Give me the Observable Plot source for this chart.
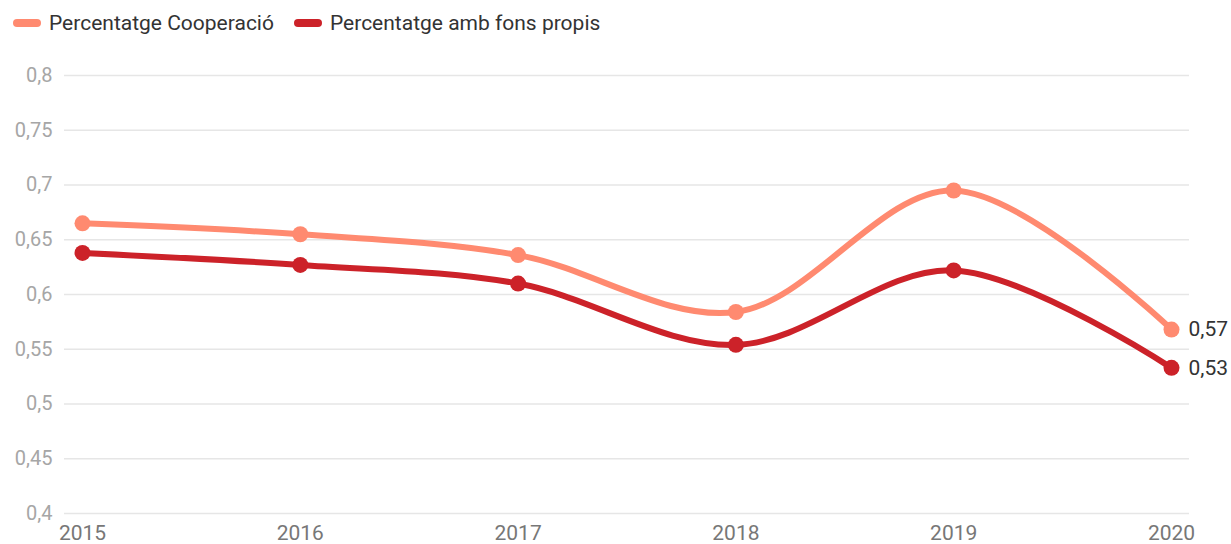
<!DOCTYPE html>
<html>
<head>
<meta charset="utf-8">
<script src="https://cdn.jsdelivr.net/npm/d3@7"></script>
<script src="https://cdn.jsdelivr.net/npm/@observablehq/plot@0.6"></script>
<style>
  body { margin: 0; background: #fff; font-family: Roboto, "Noto Sans", sans-serif; }
  #legend { height: 45px; display: flex; align-items: center; padding-left: 13px; font-size: 21px; color: #333; }
  .item { display: flex; align-items: center; margin-right: 20px; }
  .sw { width: 28px; height: 8px; border-radius: 4px; margin-right: 8px; }
  svg { display: block; }
</style>
</head>
<body>
<div id="legend"></div>
<div id="chart"></div>
<script>
const years = [2015, 2016, 2017, 2018, 2019, 2020];
const cooperacio = [0.665, 0.655, 0.636, 0.584, 0.695, 0.568];
const fonsPropis = [0.638, 0.627, 0.610, 0.554, 0.622, 0.533];
const seriesNames = ["Percentatge Cooperació", "Percentatge amb fons propis"];
const seriesColors = ["#ff8a70", "#cc2229"];
const yTicks = [0.4, 0.45, 0.5, 0.55, 0.6, 0.65, 0.7, 0.75, 0.8];

const data = [];
years.forEach((y, i) => {
  data.push({year: y, value: cooperacio[i], series: seriesNames[0]});
  data.push({year: y, value: fonsPropis[i], series: seriesNames[1]});
});
const last = data.filter(d => d.year === 2020);
const fmt = v => String(+v.toFixed(2)).replace(".", ",");

const legend = document.getElementById("legend");
seriesNames.forEach((n, i) => {
  const it = document.createElement("div");
  it.className = "item";
  it.innerHTML = `<div class="sw" style="background:${seriesColors[i]}"></div><span>${n}</span>`;
  legend.appendChild(it);
});

const chart = Plot.plot({
  width: 1231,
  height: 499,
  marginTop: 30,
  marginBottom: 31,
  marginLeft: 64,
  marginRight: 42,
  insetLeft: 18,
  insetRight: 18,
  style: {fontFamily: "Roboto, sans-serif", background: "#fff", overflow: "visible"},
  x: {domain: [2015, 2020]},
  y: {domain: [0.4, 0.8]},
  color: {domain: seriesNames, range: seriesColors},
  marks: [
    Plot.gridY(yTicks, {stroke: "#e6e6e6", strokeOpacity: 1, strokeWidth: 1.3}),
    Plot.axisY(yTicks, {tickSize: 0, tickPadding: 12, tickFormat: fmt, fontSize: 20, fill: "#a6a6a6", label: null}),
    Plot.axisX(years, {tickSize: 0, tickPadding: 12, tickFormat: d => String(d), fontSize: 21, fill: "#777", label: null}),
    Plot.line(data, {x: "year", y: "value", z: "series", stroke: "series", strokeWidth: 6, curve: "catmull-rom"}),
    Plot.dot(data, {x: "year", y: "value", fill: "series", r: 8}),
    Plot.text(last, {x: "year", y: "value", text: d => fmt(d.value), dx: 17, textAnchor: "start", fontSize: 21, fill: "#333"})
  ]
});
document.getElementById("chart").appendChild(chart);
</script>
</body>
</html>
